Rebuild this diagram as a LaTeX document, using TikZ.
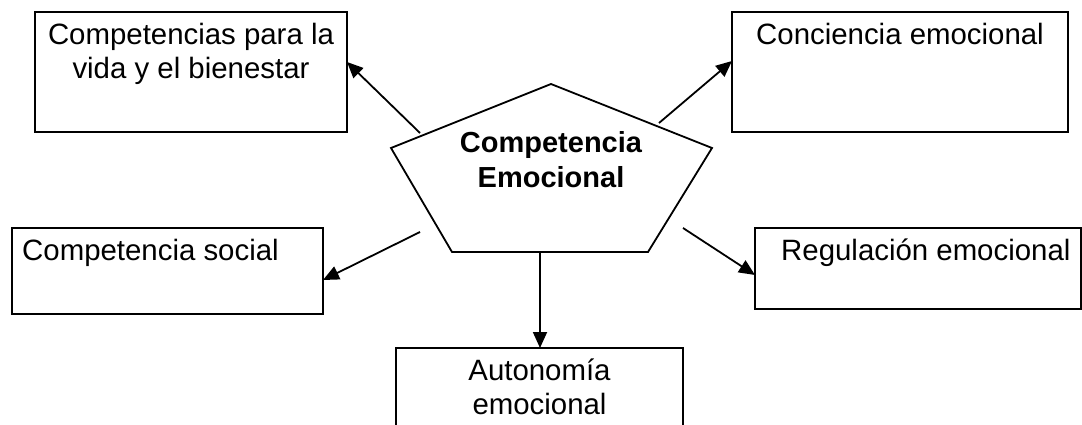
\documentclass[tikz,border=0pt]{standalone}
\usepackage{fontspec}
\setmainfont{Liberation Sans}
\usetikzlibrary{arrows.meta,calc}
\begin{document}
\begin{tikzpicture}[x=1pt,y=-1pt,
  box/.style={draw,line width=1.8pt,inner sep=0pt,outer sep=0pt,anchor=north west},
  txt/.style={inner sep=0pt,align=center,font=\fontsize{29.4}{33.5}\selectfont},
  ttl/.style={inner sep=0pt,align=center,font=\fontsize{29}{35}\selectfont\bfseries},
  ln/.style={line width=1.8pt,line join=miter},
  arr/.style={line width=1.8pt,-{Triangle[length=16pt,width=14pt]}}]
\useasboundingbox (0,0) rectangle (1082,425);
% boxes
\node[box,minimum width=312pt,minimum height=120pt] (b1) at (35,12) {};
\node[box,minimum width=336pt,minimum height=120pt] (b2) at (732,12) {};
\node[box,minimum width=311pt,minimum height=86pt] (b3) at (12,228) {};
\node[box,minimum width=287pt,minimum height=120pt] (b4) at (396,348) {};
\node[box,minimum width=326pt,minimum height=81pt] (b5) at (755,228) {};
% texts (multi-line nodes: base = last baseline)
\node[txt,anchor=base] (t1) at ($(b1.north)+(0,66.5)$) {Competencias para la\\vida y el bienestar};
\node[txt,anchor=base] (t2) at ($(b2.north)+(0,33)$) {Conciencia emocional};
\node[txt,anchor=base west] (t3) at ($(b3.north west)+(10,32)$) {Competencia social};
\node[txt,anchor=base] (t4) at ($(b4.north)+(0,66)$) {Autonomía\\emocional};
\node[txt,anchor=base west] (t5) at ($(b5.north west)+(26,32)$) {Regulación emocional};
% pentagon
\coordinate (pt) at (551,84);
\coordinate (pl) at (391,148);
\coordinate (pr) at (712,148);
\coordinate (pbl) at (452,252);
\coordinate (pbr) at (648,252);
\draw[ln] (pt) -- (pr) -- (pbr) -- (pbl) -- (pl) -- cycle;
\node[ttl,anchor=base] (pc) at (551,187) {Competencia\\Emocional};
% arrow start points
\coordinate (s1) at (420,133);
\coordinate (s2) at (659,123);
\coordinate (s3) at (420,232);
\coordinate (s4) at (540,252);
\coordinate (s5) at (683,228);
% arrows
\draw[arr] (s1) -- ($(b1.north east)+(0,50)$);
\draw[arr] (s2) -- ($(b2.north west)+(0,49)$);
\draw[arr] (s3) -- ($(b3.north east)+(0,52)$);
\draw[arr] (s4) -- (s4 |- b4.north);
\draw[arr] (s5) -- ($(b5.north west)+(0,47)$);
\end{tikzpicture}
\end{document}
